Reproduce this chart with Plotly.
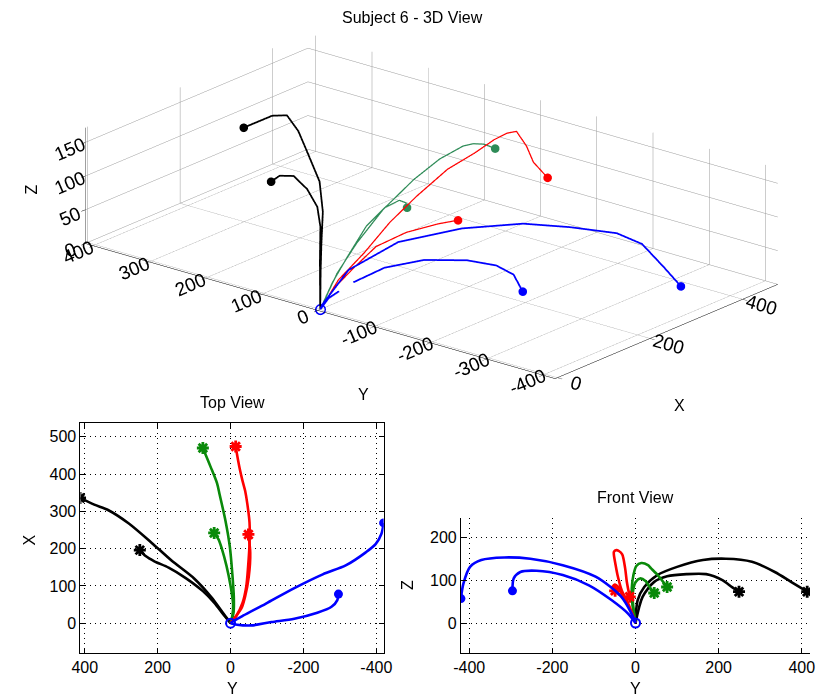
import plotly.graph_objects as go

# ---------------- data ----------------
blue_long_x = [0, 2, 20, 52, 94, 131, 155, 190, 212, 240, 269]
blue_long_y = [0, -2, -34, -96, -175, -253, -316, -371, -398, -414, -420]
blue_long_z = [0, 7, 61, 108, 135, 150, 153, 147, 131, 92, 57]

blue_short_x = [0, -4, -6, 3, 12, 28, 44, 62, 78]
blue_short_y = [0, -18, -57, -112, -175, -238, -277, -293, -296]
blue_short_z = [0, 22, 53, 88, 112, 122, 119, 104, 75]

black_long_x = [0, 7, 28, 70, 120, 168, 216, 268, 303, 318, 336]
black_long_y = [0, 5, 21, 53, 100, 162, 217, 280, 335, 374, 413]
black_long_z = [0, 53, 84, 112, 131, 147, 150, 143, 119, 96, 73]

black_short_x = [0, 20, 55, 86, 121, 149, 166, 180, 196]
black_short_y = [0, 17, 45, 76, 123, 170, 209, 233, 249]
black_short_z = [0, 61, 96, 109, 114, 114, 100, 83, 73]

green_long_x = [0, 27, 68, 130, 205, 275, 345, 375, 420, 470]
green_long_y = [0, -8, -9, -5, 2, 14, 30, 37, 55, 76]
green_long_z = [0, 48, 81, 112, 133, 140, 135, 128, 110, 84]

green_short_x = [0, 20, 50, 100, 153, 200, 225, 242]
green_short_y = [0, -5, -7, 0, 11, 24, 33, 45]
green_short_z = [0, 35, 65, 95, 104, 98, 85, 70]

red_long_x = [0, 20, 55, 98, 150, 212, 270, 320, 355, 385, 415, 435, 474]
red_long_y = [0, -16, -33, -43, -48, -52, -52, -46, -40, -32, -25, -21, -14]
red_long_z = [0, 42, 76, 111, 136, 159, 166, 170, 168, 160, 128, 97, 61]

red_short_x = [0, 15, 40, 72, 125, 189, 238]
red_short_y = [0, -12, -30, -40, -50, -54, -49]
red_short_z = [0, 30, 60, 82, 90, 85, 75]

# tick values
ticks3d_x = [0, 200, 400]
ticks3d_y = [-400, -300, -200, -100, 0, 100, 200, 300, 400]
ticks3d_z = [0, 50, 100, 150]
ticks_top_h = [400, 200, 0, -200, -400]
ticks_top_v = [0, 100, 200, 300, 400, 500]
ticks_front_h = [-400, -200, 0, 200, 400]
ticks_front_v = [0, 100, 200]

# ---------------- styles ----------------
FONT = "Liberation Sans"
FS = 16
COL2D = {"blue": "#0000ff", "black": "#000000", "green": "#0a8a0a", "red": "#ff0000"}
COL3D = {"blue": "#0000ff", "black": "#000000", "green": "#2e8b57", "red": "#ff0000"}

trajectories = [
    ("black", black_long_x, black_long_y, black_long_z, "asterisk"),
    ("black", black_short_x, black_short_y, black_short_z, "asterisk"),
    ("green", green_long_x, green_long_y, green_long_z, "asterisk"),
    ("green", green_short_x, green_short_y, green_short_z, "asterisk"),
    ("red", red_long_x, red_long_y, red_long_z, "asterisk"),
    ("red", red_short_x, red_short_y, red_short_z, "asterisk"),
    ("blue", blue_long_x, blue_long_y, blue_long_z, "dot"),
    ("blue", blue_short_x, blue_short_y, blue_short_z, "dot"),
]

fig = go.Figure()


def end_marker(c, kind, size):
    if kind == "dot":
        return dict(symbol="circle", size=size, color=c, line=dict(width=0))
    return dict(symbol="asterisk-open", size=size + 1, color=c, line=dict(width=2.8, color=c))


for name, xs, ys, zs, kind in trajectories:
    c3 = COL3D[name]
    c2 = COL2D[name]
    w3 = 3.5 if name in ("blue", "black") else 2.5
    # 3D view
    fig.add_trace(go.Scatter3d(x=xs, y=ys, z=zs, mode="lines",
                               line=dict(color=c3, width=w3), scene="scene",
                               hoverinfo="skip"))
    fig.add_trace(go.Scatter3d(x=[xs[-1]], y=[ys[-1]], z=[zs[-1]], mode="markers",
                               marker=dict(symbol="circle", size=5, color=c3),
                               scene="scene", hoverinfo="skip"))
    # Top view (Y horizontal, X vertical)
    fig.add_trace(go.Scatter(x=ys, y=xs, mode="lines",
                             line=dict(color=c2, width=2.6, shape="spline", smoothing=0.8),
                             xaxis="x", yaxis="y", hoverinfo="skip"))
    fig.add_trace(go.Scatter(x=[ys[-1]], y=[xs[-1]], mode="markers",
                             marker=end_marker(c2, kind, 9), xaxis="x", yaxis="y",
                             hoverinfo="skip"))
    # Front view (Y horizontal, Z vertical)
    fig.add_trace(go.Scatter(x=ys, y=zs, mode="lines",
                             line=dict(color=c2, width=2.6, shape="spline", smoothing=0.8),
                             xaxis="x2", yaxis="y2", hoverinfo="skip"))
    fig.add_trace(go.Scatter(x=[ys[-1]], y=[zs[-1]], mode="markers",
                             marker=end_marker(c2, kind, 9), xaxis="x2", yaxis="y2",
                             hoverinfo="skip"))

# start markers (open blue circle at the first sample)
start = trajectories[-1]
fig.add_trace(go.Scatter3d(x=[start[1][0]], y=[start[2][0]], z=[start[3][0]], mode="markers",
                           marker=dict(symbol="circle-open", size=6, color="#0000ff",
                                       line=dict(width=2, color="#0000ff")),
                           scene="scene", hoverinfo="skip"))
fig.add_trace(go.Scatter(x=[start[2][0]], y=[start[1][0]], mode="markers",
                         marker=dict(symbol="circle-open", size=9, color="#0000ff",
                                     line=dict(width=2, color="#0000ff")),
                         xaxis="x", yaxis="y", hoverinfo="skip"))
fig.add_trace(go.Scatter(x=[start[2][0]], y=[start[3][0]], mode="markers",
                         marker=dict(symbol="circle-open", size=9, color="#0000ff",
                                     line=dict(width=2, color="#0000ff")),
                         xaxis="x2", yaxis="y2", hoverinfo="skip"))

tickfont = dict(family=FONT, size=FS, color="black")


def ax3(rng, tv):
    return dict(range=rng, tickvals=tv, ticktext=[str(v) for v in tv],
                showbackground=False, showgrid=True, gridcolor="#9a9a9a", gridwidth=1,
                showline=True, linecolor="black", linewidth=1, zeroline=False,
                ticks="outside", ticklen=6, tickcolor="black",
                tickfont=dict(family=FONT, size=15, color="black"),
                title=dict(text=""), showspikes=False, autorange=False)


S = 3.42 * 0.51 / 0.57
k = 5.0
fig.update_layout(
    width=824, height=698, margin=dict(l=0, r=0, t=0, b=0),
    paper_bgcolor="white", plot_bgcolor="white", showlegend=False,
    font=dict(family=FONT, size=FS, color="black"),
    scene=dict(
        domain=dict(x=[0.048, 1.0], y=[0.42, 0.99]),
        xaxis=ax3([-5, 476], ticks3d_x),
        yaxis=ax3([-422, 414], ticks3d_y),
        zaxis=ax3([0, 172], ticks3d_z),
        aspectmode="manual", aspectratio=dict(x=0.575 * S, y=1.0 * S, z=0.203 * S),
        camera=dict(projection=dict(type="orthographic"),
                    eye=dict(x=-0.723 * k, y=-0.596 * k, z=0.349 * k),
                    up=dict(x=0, y=0, z=1), center=dict(x=0, y=0, z=0)),
    ),
)

common2d = dict(showline=True, linecolor="black", linewidth=1, ticks="inside", ticklen=5,
                tickcolor="black", showgrid=True, gridcolor="black", griddash="1px,4px",
                gridwidth=1, zeroline=False, tickfont=tickfont, autorange=False)

fig.update_layout(
    xaxis=dict(domain=[73 / 824, 383 / 824], anchor="y", range=[412, -420],
               tickvals=ticks_top_h, ticktext=[str(v) for v in ticks_top_h],
               mirror="ticks", **common2d),
    yaxis=dict(domain=[1 - 653 / 698, 1 - 423 / 698], anchor="x", range=[-80, 537],
               tickvals=ticks_top_v, ticktext=[str(v) for v in ticks_top_v],
               mirror="ticks", **common2d),
    xaxis2=dict(domain=[462 / 824, 819 / 824], anchor="y2", range=[-420, 420],
                tickvals=ticks_front_h, ticktext=[str(v) for v in ticks_front_h],
                **common2d),
    yaxis2=dict(domain=[1 - 653 / 698, 1 - 518 / 698], anchor="x2", range=[-70, 245],
                tickvals=ticks_front_v, ticktext=[str(v) for v in ticks_front_v],
                **common2d),
)


def label(text, x, y, angle=0):
    fig.add_annotation(text=text, x=x / 824, y=1 - y / 698, xref="paper", yref="paper",
                       showarrow=False, textangle=angle, xanchor="center", yanchor="middle",
                       font=dict(family=FONT, size=FS, color="black"))


label("Subject 6 - 3D View", 413, 18)
label("Z", 22, 190, -90)
label("Y", 362, 394)
label("X", 685, 406)
label("Top View", 228, 403)
label("X", 20, 540, -90)
label("Y", 228, 688)
label("Front View", 640, 497)
label("Z", 407, 585, -90)
label("Y", 641, 688)

fig.write_html("out.html")
